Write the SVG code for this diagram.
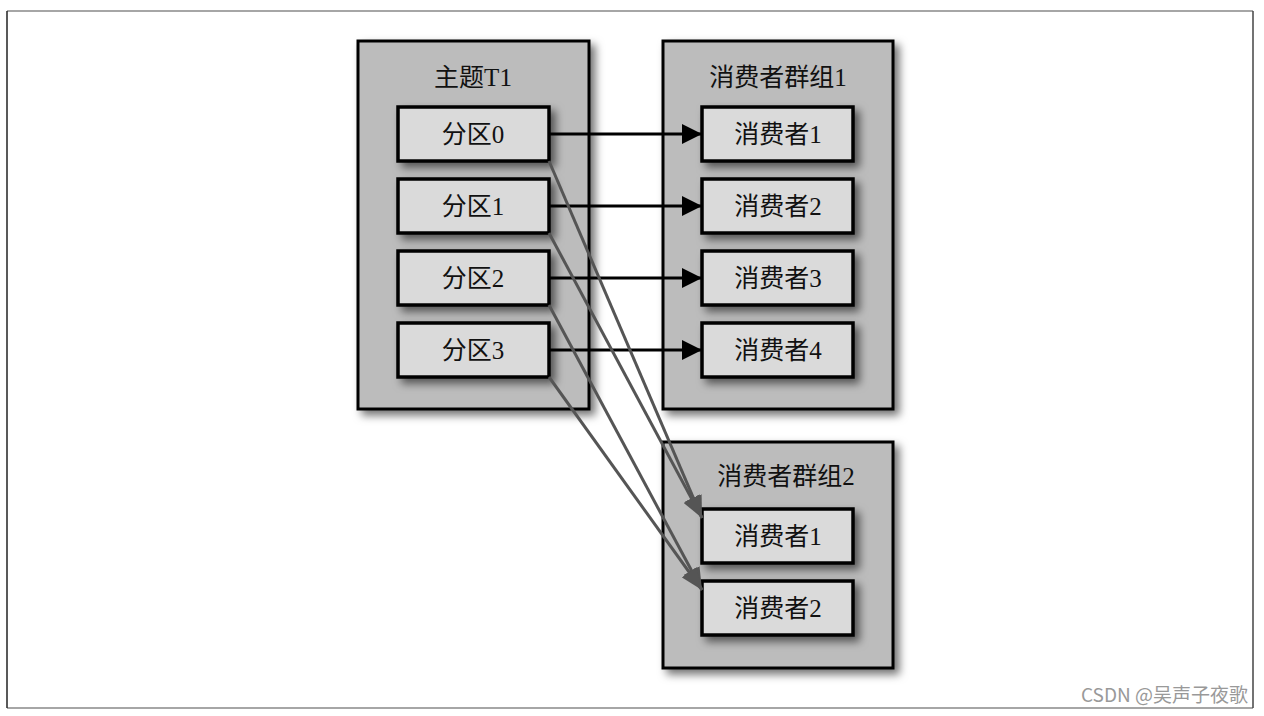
<svg xmlns="http://www.w3.org/2000/svg" width="1264" height="716" viewBox="0 0 1264 716">
<defs>
<filter id="sh" x="-20%" y="-20%" width="150%" height="150%">
<feDropShadow dx="5" dy="5" stdDeviation="4" flood-color="#000" flood-opacity="0.55"/>
</filter>
<marker id="ab" viewBox="0 0 20 20" refX="20" refY="10" markerWidth="20" markerHeight="20" markerUnits="userSpaceOnUse" orient="auto">
<path d="M0,0 L20,10 L0,20 Z" fill="#000"/>
</marker>
<marker id="ag" viewBox="0 0 22 18" refX="22" refY="9" markerWidth="22" markerHeight="18" markerUnits="userSpaceOnUse" orient="auto">
<path d="M0,0 L22,9 L0,18 Z" fill="#555"/>
</marker>
</defs>
<style>
.grp{fill:#bcbcbc;stroke:#000;stroke-width:3;filter:url(#sh)}
.box{fill:#dadada;stroke:#000;stroke-width:3.5;filter:url(#sh)}
.t{font-family:"Liberation Serif","Noto Sans CJK SC",serif;font-size:25px;fill:#111;text-anchor:middle}
.bk{stroke:#000;stroke-width:3;fill:none;marker-end:url(#ab)}
.gy{stroke:#555;stroke-width:3;fill:none;marker-end:url(#ag)}
</style>
<rect width="1264" height="716" fill="#fff"/>
<g id="frame">
<line x1="7" y1="11" x2="1253" y2="11" stroke="#888" stroke-width="1.5"/>
<line x1="7" y1="708" x2="1253" y2="708" stroke="#888" stroke-width="1.5"/>
<line x1="7" y1="11" x2="7" y2="708" stroke="#222" stroke-width="1.5"/>
<line x1="1253" y1="11" x2="1253" y2="708" stroke="#444" stroke-width="1.5"/>
</g>
<g id="topic">
<rect class="grp" x="358" y="41" width="231" height="368"/>
<text class="t" x="473" y="86">主题T1</text>
</g>
<g id="group1">
<rect class="grp" x="663" y="41" width="230" height="368"/>
<text class="t" x="778" y="86">消费者群组1</text>
</g>
<g id="group2">
<rect class="grp" x="663" y="442" width="230" height="226"/>
<text class="t" x="786" y="485">消费者群组2</text>
</g>
<g id="p0"><rect class="box" x="398" y="107" width="151" height="54"/><text class="t" x="473" y="143">分区0</text></g>
<g id="p1"><rect class="box" x="398" y="179" width="151" height="54"/><text class="t" x="473" y="215">分区1</text></g>
<g id="p2"><rect class="box" x="398" y="251" width="151" height="54"/><text class="t" x="473" y="287">分区2</text></g>
<g id="p3"><rect class="box" x="398" y="323" width="151" height="54"/><text class="t" x="473" y="359">分区3</text></g>
<g id="g1c1"><rect class="box" x="702" y="107" width="151" height="54"/><text class="t" x="778" y="143">消费者1</text></g>
<g id="g1c2"><rect class="box" x="702" y="179" width="151" height="54"/><text class="t" x="778" y="215">消费者2</text></g>
<g id="g1c3"><rect class="box" x="702" y="251" width="151" height="54"/><text class="t" x="778" y="287">消费者3</text></g>
<g id="g1c4"><rect class="box" x="702" y="323" width="151" height="54"/><text class="t" x="778" y="359">消费者4</text></g>
<g id="g2c1"><rect class="box" x="702" y="509" width="151" height="54"/><text class="t" x="778" y="545">消费者1</text></g>
<g id="g2c2"><rect class="box" x="702" y="581" width="151" height="54"/><text class="t" x="778" y="617">消费者2</text></g>
<g id="connectors">
<line class="bk" x1="549" y1="134" x2="702" y2="134"/>
<line class="bk" x1="549" y1="206" x2="702" y2="206"/>
<line class="bk" x1="549" y1="278" x2="702" y2="278"/>
<line class="bk" x1="549" y1="350" x2="702" y2="350"/>
<line class="gy" x1="549" y1="161" x2="702" y2="518"/>
<line class="gy" x1="549" y1="233" x2="702" y2="518"/>
<line class="gy" x1="549" y1="305" x2="702" y2="590"/>
<line class="gy" x1="549" y1="377" x2="702" y2="590"/>
</g>
<text x="1248" y="702" font-family="'Noto Sans CJK SC','Liberation Sans',sans-serif" font-size="19" fill="#999" text-anchor="end">CSDN @吴声子夜歌</text>
</svg>
